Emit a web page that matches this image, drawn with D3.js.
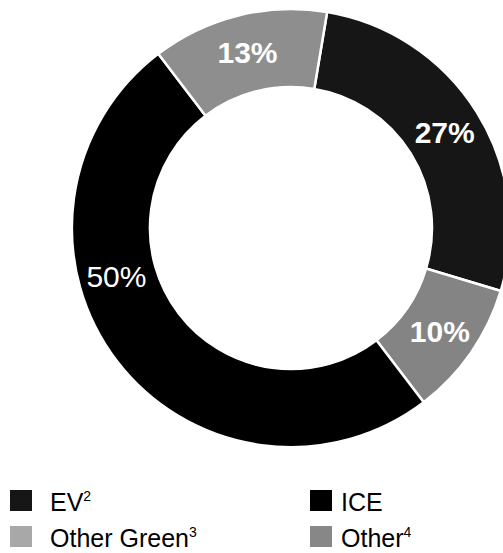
<!DOCTYPE html>
<html>
<head>
<meta charset="utf-8">
<script src="https://cdn.jsdelivr.net/npm/d3@7"></script>
<style>
  html, body { margin: 0; padding: 0; background: #fff; }
  svg { display: block; font-family: "Liberation Sans", Arial, sans-serif; }
</style>
</head>
<body>
<svg id="chart" width="503" height="553"></svg>
<script>
// ---- data ----
const categories = ["EV", "Other", "ICE", "Other Green"];
const values = [27, 10, 50, 13];
const valueLabels = ["27%", "10%", "50%", "13%"];
const legendNames = ["EV", "ICE", "Other Green", "Other"];
const legendNotes = ["2", "", "3", "4"];

// ---- styles ----
const colors = { "EV": "#161616", "Other": "#848484", "ICE": "#000000", "Other Green": "#8e8e8e" };
const labelBold = { "EV": true, "Other": true, "ICE": false, "Other Green": true };
const labelAngleShift = { "EV": 0, "Other": 0, "ICE": 22, "Other Green": 0 }; // degrees

const cx = 291, cy = 228, outerR = 219, innerR = 141, labelR = 181;
const startDeg = 9.5;

const svg = d3.select("#chart");
const g = svg.append("g").attr("transform", `translate(${cx},${cy})`);

const pie = d3.pie().sort(null)
  .startAngle(startDeg * Math.PI / 180)
  .endAngle(startDeg * Math.PI / 180 + 2 * Math.PI);
const arcData = pie(values).map((a, i) => Object.assign(a, { cat: categories[i], label: valueLabels[i] }));

const arc = d3.arc().innerRadius(innerR).outerRadius(outerR);

g.selectAll("path.slice").data(arcData).enter().append("path")
  .attr("class", "slice")
  .attr("d", arc)
  .attr("fill", d => colors[d.cat])
  .attr("stroke", "#fff")
  .attr("stroke-width", 2.5);

g.selectAll("text.val").data(arcData).enter().append("text")
  .attr("class", "val")
  .attr("transform", d => {
    const a = (d.startAngle + d.endAngle) / 2 + labelAngleShift[d.cat] * Math.PI / 180;
    return `translate(${labelR * Math.sin(a)},${-labelR * Math.cos(a)})`;
  })
  .attr("text-anchor", "middle")
  .attr("dy", "0.36em")
  .attr("fill", "#fff")
  .attr("font-size", 30)
  .attr("font-weight", d => labelBold[d.cat] ? "bold" : "normal")
  .text(d => d.label);

// ---- legend ----
const legendColors = { "EV": colors["EV"], "ICE": colors["ICE"], "Other Green": "#a8a8a8", "Other": "#878787" };
const colX = [10, 310];
const textX = [50, 341];
const rowY = [511, 547]; // baselines
const legend = svg.append("g");
legendNames.forEach((name, i) => {
  const col = i % 2, row = Math.floor(i / 2);
  legend.append("rect")
    .attr("x", colX[col]).attr("y", rowY[row] - 21)
    .attr("width", 22).attr("height", 21)
    .attr("fill", legendColors[name]);
  const t = legend.append("text")
    .attr("x", textX[col]).attr("y", rowY[row])
    .attr("font-size", 25).attr("fill", "#000");
  t.append("tspan").text(name);
  if (legendNotes[i]) {
    t.append("tspan").attr("dy", -10).attr("font-size", 14).text(legendNotes[i]);
  }
});
</script>
</body>
</html>
